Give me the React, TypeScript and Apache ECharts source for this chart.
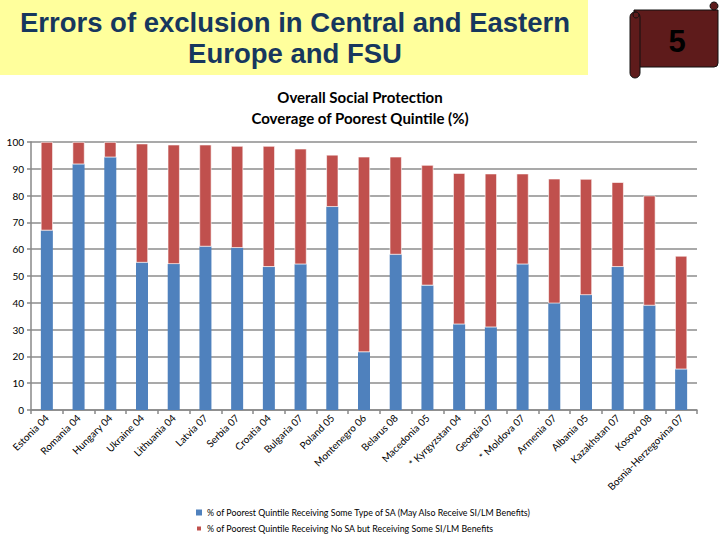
import React, { useEffect, useRef } from "react";
import * as echarts from "echarts";

const categories = [
  "Estonia 04", "Romania 04", "Hungary 04", "Ukraine 04", "Lithuania 04",
  "Latvia 07", "Serbia 07", "Croatia 04", "Bulgaria 07", "Poland 05",
  "Montenegro 06", "Belarus 08", "Macedonia 05", "* Kyrgyzstan 04", "Georgia 07",
  "* Moldova 07", "Armenia 07", "Albania 05", "Kazakhstan 07", "Kosovo 08",
  "Bosnia-Herzegovina 07",
];
const saValues = [67, 91.7, 94.3, 55, 54.5, 61, 60.5, 53.4, 54.4, 75.8, 21.6, 58, 46.5, 32, 30.9, 54.4, 39.8, 42.9, 53.4, 39, 15.2];
const totalValues = [100, 100, 100, 99.4, 99, 99, 98.5, 98.5, 97.5, 95.2, 94.5, 94.5, 91.4, 88.4, 88.2, 88.2, 86.3, 86.2, 85, 80, 57.5];
const noSaValues = totalValues.map((t, i) => +(t - saValues[i]).toFixed(1));
const seriesNames = [
  "% of Poorest Quintile Receiving Some Type of SA (May Also Receive SI/LM Benefits)",
  "% of Poorest Quintile Receiving No SA but Receiving Some SI/LM Benefits",
];
const yTicks = { min: 0, max: 100, interval: 10 };

export default function App() {
  const ref = useRef<HTMLDivElement>(null);
  useEffect(() => {
    if (!ref.current) return;
    const chart = echarts.init(ref.current, null, { renderer: "svg" });
    const font = "Lato, 'Open Sans', sans-serif";
    const titleFont = "bold 27.5px 'Liberation Sans', Arial, sans-serif";
    chart.setOption({
      animation: false,
      backgroundColor: "#ffffff",
      grid: { left: 31, right: 23, top: 142, bottom: 130, containLabel: false },
      legend: {
        orient: "vertical",
        left: 190,
        top: 503,
        itemWidth: 6,
        itemHeight: 6,
        itemGap: 7,
        icon: "rect",
        textStyle: { fontSize: 8.8, fontFamily: font, color: "#000" },
        data: seriesNames,
      },
      xAxis: {
        type: "category",
        data: categories,
        axisLine: { lineStyle: { color: "#888", width: 1.5 } },
        axisTick: { show: true, length: 4, lineStyle: { color: "#888", width: 1.5 } },
        axisLabel: {
          rotate: 45,
          interval: 0,
          fontSize: 10,
          fontFamily: font,
          color: "#000",
          margin: 6,
        },
      },
      yAxis: {
        type: "value",
        min: yTicks.min,
        max: yTicks.max,
        interval: yTicks.interval,
        axisLine: { show: true, lineStyle: { color: "#888", width: 1.5 } },
        axisTick: { show: true, length: 4, lineStyle: { color: "#888", width: 1.5 } },
        splitLine: { lineStyle: { color: "#8c8c8c", width: 1.5 } },
        axisLabel: { fontSize: 10, fontFamily: font, color: "#000", margin: 7 },
      },
      series: [
        {
          name: seriesNames[0],
          type: "bar",
          stack: "total",
          data: saValues,
          barWidth: 12,
          itemStyle: { color: "#4F81BD" },
        },
        {
          name: seriesNames[1],
          type: "bar",
          stack: "total",
          data: noSaValues,
          barWidth: 12,
          itemStyle: { color: "#C0504D", borderColor: "#ffffff", borderWidth: 0.6 },
        },
      ],
      graphic: [
        { type: "rect", shape: { x: 0, y: 0, width: 588, height: 75 }, style: { fill: "#FFFF9C" } },
        {
          type: "text",
          x: 295,
          y: 22,
          style: {
            text: "Errors of exclusion in Central and Eastern",
            font: titleFont,
            fill: "#17375E",
            align: "center",
            verticalAlign: "middle",
          },
        },
        {
          type: "text",
          x: 295,
          y: 53,
          style: {
            text: "Europe and FSU",
            font: titleFont,
            fill: "#17375E",
            align: "center",
            verticalAlign: "middle",
          },
        },
        {
          type: "rect",
          shape: { x: 634, y: 10, width: 84, height: 57, r: [0, 0, 4, 0] },
          style: { fill: "#5E1B1B", stroke: "#111", lineWidth: 1 },
        },
        { type: "circle", shape: { cx: 714, cy: 6, r: 4 }, style: { fill: "#5E1B1B", stroke: "#111", lineWidth: 1 } },
        {
          type: "rect",
          shape: { x: 630, y: 12, width: 10, height: 66, r: 5 },
          style: { fill: "#5E1B1B", stroke: "#111", lineWidth: 1 },
        },
        { type: "circle", shape: { cx: 636, cy: 15, r: 3 }, style: { fill: "#5E1B1B", stroke: "#111", lineWidth: 1 } },
        {
          type: "text",
          x: 677,
          y: 41,
          style: {
            text: "5",
            font: "bold 31px 'Liberation Sans', sans-serif",
            fill: "#000",
            align: "center",
            verticalAlign: "middle",
          },
        },
        {
          type: "text",
          x: 360,
          y: 97,
          style: {
            text: "Overall Social Protection",
            font: "bold 15px Lato, 'Open Sans', sans-serif",
            fill: "#000",
            align: "center",
            verticalAlign: "middle",
          },
        },
        {
          type: "text",
          x: 360,
          y: 118,
          style: {
            text: "Coverage of Poorest Quintile (%)",
            font: "bold 15px Lato, 'Open Sans', sans-serif",
            fill: "#000",
            align: "center",
            verticalAlign: "middle",
          },
        },
      ],
    });
    return () => chart.dispose();
  }, []);
  return (
    <div
      ref={ref}
      style={{ position: "absolute", left: 0, top: 0, width: 720, height: 540 }}
    />
  );
}
